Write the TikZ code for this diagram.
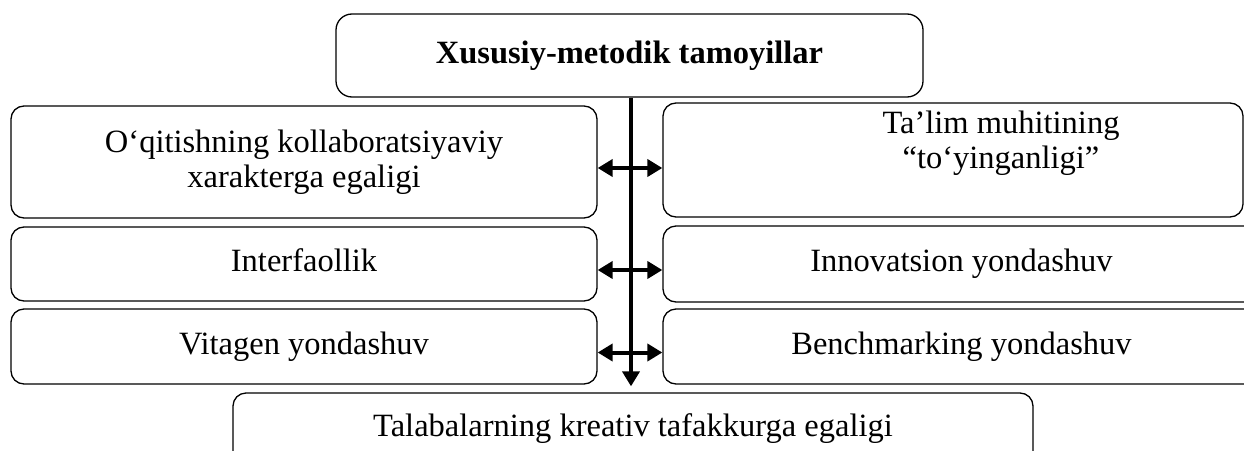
\documentclass[tikz,border=0pt]{standalone}
\usepackage{fontspec}
\setmainfont{Liberation Serif}
\usetikzlibrary{arrows.meta}

\begin{document}
\begin{tikzpicture}[x=1pt,y=-1pt,
  txt/.style={font=\fontsize{32.5}{35}\selectfont},
  box/.style={txt,draw=black,line width=1.3pt,rounded corners=13pt,align=center,inner sep=0pt},
  oneline/.style={text height=23pt,text depth=8pt},
  conn/.style={line width=4pt,{Triangle[length=15pt,width=17pt]}-{Triangle[length=15pt,width=17pt]}}]
  \useasboundingbox (0,0) rectangle (1244,450);

  % Heading
  \node[box,oneline,rounded corners=16pt,minimum width=587pt,minimum height=83pt,
    font=\fontsize{32.5}{35}\selectfont\bfseries] (head) at (629.5,55.5) {Xususiy-metodik tamoyillar};

  % Left column
  \node[box,minimum width=586pt,minimum height=112pt] (kol) at (304,162)
    {O‘qitishning kollaboratsiyaviy\\xarakterga egaligi};
  \node[box,oneline,minimum width=586pt,minimum height=74pt] (int) at (304,264) {Interfaollik};
  \node[box,oneline,minimum width=586pt,minimum height=75pt] (vit) at (304,346.5) {Vitagen yondashuv};

  % Right column
  \node[box,minimum width=580pt,minimum height=114pt,
    label={[txt,align=center,xshift=48pt,yshift=17pt]center:{Ta’lim muhitining\\“to‘yinganligi”}}]
    (muh) at (953,160) {};
  \node[box,oneline,minimum width=597pt,minimum height=76pt] (inn) at (961.5,264) {Innovatsion yondashuv};
  \node[box,oneline,minimum width=597pt,minimum height=75pt] (ben) at (961.5,346.5) {Benchmarking yondashuv};

  % Result
  \node[box,oneline,minimum width=800pt,minimum height=72pt] (kre) at (633,429)
    {Talabalarning kreativ tafakkurga egaligi};

  % Main arrow
  \draw[line width=4pt,-{Triangle[length=15pt,width=17pt]}]
    ([xshift=1.5pt]head.south) -- ([xshift=1.5pt,yshift=6pt]head.south |- kre.north);

  % Double arrows
  \foreach \a/\b in {kol/muh,int/inn,vit/ben}
    \draw[conn] ([yshift=-6pt]\a.east) -- ([yshift=-6pt]\a.east -| \b.west);
\end{tikzpicture}
\end{document}
